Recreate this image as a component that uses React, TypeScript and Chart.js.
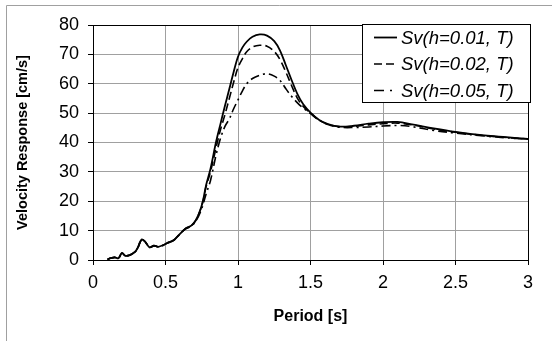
import React, { useEffect, useRef } from "react";
import { Chart, registerables } from "chart.js";

Chart.register(...registerables);

const periods = [0.1, 0.12, 0.15, 0.175, 0.2, 0.22, 0.25, 0.29, 0.31, 0.335, 0.36, 0.39, 0.42, 0.45, 0.49, 0.52, 0.555, 0.59, 0.635, 0.68, 0.71, 0.74, 0.76, 0.78, 0.81, 0.85, 0.88, 0.91, 0.94, 0.97, 1.0, 1.03, 1.06, 1.1, 1.15, 1.2, 1.25, 1.29, 1.33, 1.37, 1.41, 1.45, 1.5, 1.56, 1.62, 1.7, 1.8, 1.9, 2.0, 2.1, 2.2, 2.35, 2.5, 2.7, 2.85, 3.0];

const svH001 = [0.2, 0.6, 0.9, 0.6, 2.4, 1.5, 1.6, 2.8, 4.3, 7.0, 6.2, 4.3, 4.9, 4.5, 5.2, 6.0, 6.7, 8.4, 10.6, 11.8, 13.6, 17.0, 20.5, 25.5, 31.0, 40.5, 46.5, 52.5, 58.2, 64.0, 69.2, 72.3, 74.3, 76.0, 76.8, 76.4, 74.5, 71.3, 66.3, 61.2, 56.5, 53.0, 50.2, 47.7, 46.3, 45.4, 45.7, 46.4, 46.9, 47.0, 46.2, 44.8, 43.6, 42.4, 41.8, 41.2];

const svH002 = [0.2, 0.6, 0.9, 0.6, 2.4, 1.5, 1.6, 2.8, 4.3, 7.0, 6.2, 4.3, 4.9, 4.5, 5.2, 6.0, 6.7, 8.4, 10.6, 11.8, 13.6, 17.0, 20.3, 25.0, 30.0, 38.5, 44.5, 49.5, 55.0, 60.5, 65.5, 68.5, 70.9, 72.5, 73.1, 72.8, 71.0, 68.2, 64.0, 59.3, 55.0, 52.3, 50.0, 47.6, 46.2, 45.4, 45.5, 46.0, 46.4, 46.6, 46.0, 44.6, 43.5, 42.3, 41.7, 41.2];

const svH005 = [0.2, 0.6, 0.9, 0.6, 2.3, 1.5, 1.6, 2.7, 4.2, 6.8, 6.1, 4.3, 4.8, 4.5, 5.1, 5.9, 6.6, 8.3, 10.4, 11.6, 13.3, 16.2, 19.0, 22.5, 27.0, 36.0, 41.5, 45.5, 48.0, 51.5, 54.5, 57.5, 60.0, 61.8, 62.9, 63.4, 62.6, 61.1, 58.3, 55.7, 53.5, 51.7, 49.8, 47.6, 46.1, 45.2, 45.1, 45.3, 45.6, 45.8, 45.4, 44.1, 43.2, 42.2, 41.6, 41.1];

const seriesLabels = ["Sv(h=0.01, T)", "Sv(h=0.02, T)", "Sv(h=0.05, T)"];
const xTitle = "Period [s]";
const yTitle = "Velocity Response [cm/s]";

const FONT = '"Liberation Sans", Arial, sans-serif';

const framePlugin = {
  id: "frame",
  beforeDraw(chart: any) {
    const { ctx } = chart;
    ctx.save();
    ctx.strokeStyle = "#a0a0a0";
    ctx.lineWidth = 1;
    ctx.beginPath();
    ctx.moveTo(6.5, 400);
    ctx.lineTo(6.5, 5.5);
    ctx.lineTo(600, 5.5);
    ctx.stroke();
    ctx.restore();
  },
  afterDraw(chart: any) {
    const { ctx, chartArea } = chart;
    ctx.save();
    ctx.strokeStyle = "#000";
    ctx.lineWidth = 1;
    ctx.strokeRect(Math.round(chartArea.left) + 0.5, Math.round(chartArea.top) + 0.5, Math.round(chartArea.right - chartArea.left), Math.round(chartArea.bottom - chartArea.top));
    const w = 169, h = 79;
    const right = Math.round(chartArea.right) + 3;
    const top = Math.round(chartArea.top) - 1;
    const left = right - w;
    ctx.fillStyle = "#fff";
    ctx.fillRect(left, top, w, h);
    ctx.strokeRect(left + 0.5, top + 0.5, w - 1, h - 1);
    const sampleDash = [[], [8, 4], [10, 6, 2, 20]];
    chart.data.datasets.forEach((ds: any, i: number) => {
      const y = top + 13.5 + i * 26.5;
      ctx.setLineDash(sampleDash[i]);
      ctx.lineWidth = ds.borderWidth;
      ctx.strokeStyle = ds.borderColor;
      ctx.beginPath();
      ctx.moveTo(left + 12, y);
      ctx.lineTo(left + 35, y);
      ctx.stroke();
      ctx.setLineDash([]);
      ctx.fillStyle = "#000";
      ctx.font = `italic 18.5px ${FONT}`;
      ctx.textBaseline = "middle";
      ctx.textAlign = "left";
      ctx.fillText(ds.label, left + 39, y + 1);
    });
    ctx.restore();
  },
};

export default function App() {
  const ref = useRef<HTMLCanvasElement | null>(null);
  useEffect(() => {
    if (!ref.current) return;
    const mk = (vals: number[]) => periods.map((p, i) => ({ x: p, y: vals[i] }));
    const chart = new Chart(ref.current, {
      type: "line",
      data: {
        datasets: [
          { label: seriesLabels[0], data: mk(svH001), borderColor: "#000", borderWidth: 1.8, pointRadius: 0, tension: 0.35, fill: false },
          { label: seriesLabels[1], data: mk(svH002), borderColor: "#000", borderWidth: 1.6, borderDash: [8, 4], pointRadius: 0, tension: 0.35, fill: false },
          { label: seriesLabels[2], data: mk(svH005), borderColor: "#000", borderWidth: 1.6, borderDash: [9, 4, 2, 4], pointRadius: 0, tension: 0.35, fill: false },
        ],
      },
      options: {
        responsive: false,
        animation: false,
        layout: { padding: { left: 0, right: 24, top: 25, bottom: 0 } },
        plugins: { legend: { display: false }, tooltip: { enabled: false } },
        scales: {
          x: {
            type: "linear",
            min: 0,
            max: 3,
            afterFit: (s: any) => { s.height = 81; },
            ticks: { stepSize: 0.5, color: "#000", padding: 7, font: { family: FONT, size: 18 }, callback: (v: any) => String(v) },
            grid: { color: "#a0a0a0", lineWidth: 1, tickLength: 5, tickColor: "#000" },
            border: { color: "#000", width: 1 },
            title: { display: true, text: xTitle, color: "#000", font: { family: FONT, size: 16, weight: "bold" }, padding: { top: 0, bottom: 15 } },
          },
          y: {
            min: 0,
            max: 80,
            afterFit: (s: any) => { s.width = 93; },
            ticks: { stepSize: 10, color: "#000", padding: 9, font: { family: FONT, size: 18 } },
            grid: { color: "#a0a0a0", lineWidth: 1, tickLength: 5, tickColor: "#000" },
            border: { color: "#000", width: 1 },
            title: { display: true, text: yTitle, color: "#000", font: { family: FONT, size: 14.5, weight: "bold" }, padding: { top: 14, bottom: 0 } },
          },
        },
      },
      plugins: [framePlugin],
    });
    return () => chart.destroy();
  }, []);
  return (
    <div style={{ position: "fixed", left: 0, top: 0, width: 552, height: 341, background: "#fff" }}>
      <canvas ref={ref} width={552} height={341} style={{ display: "block" }} />
    </div>
  );
}
